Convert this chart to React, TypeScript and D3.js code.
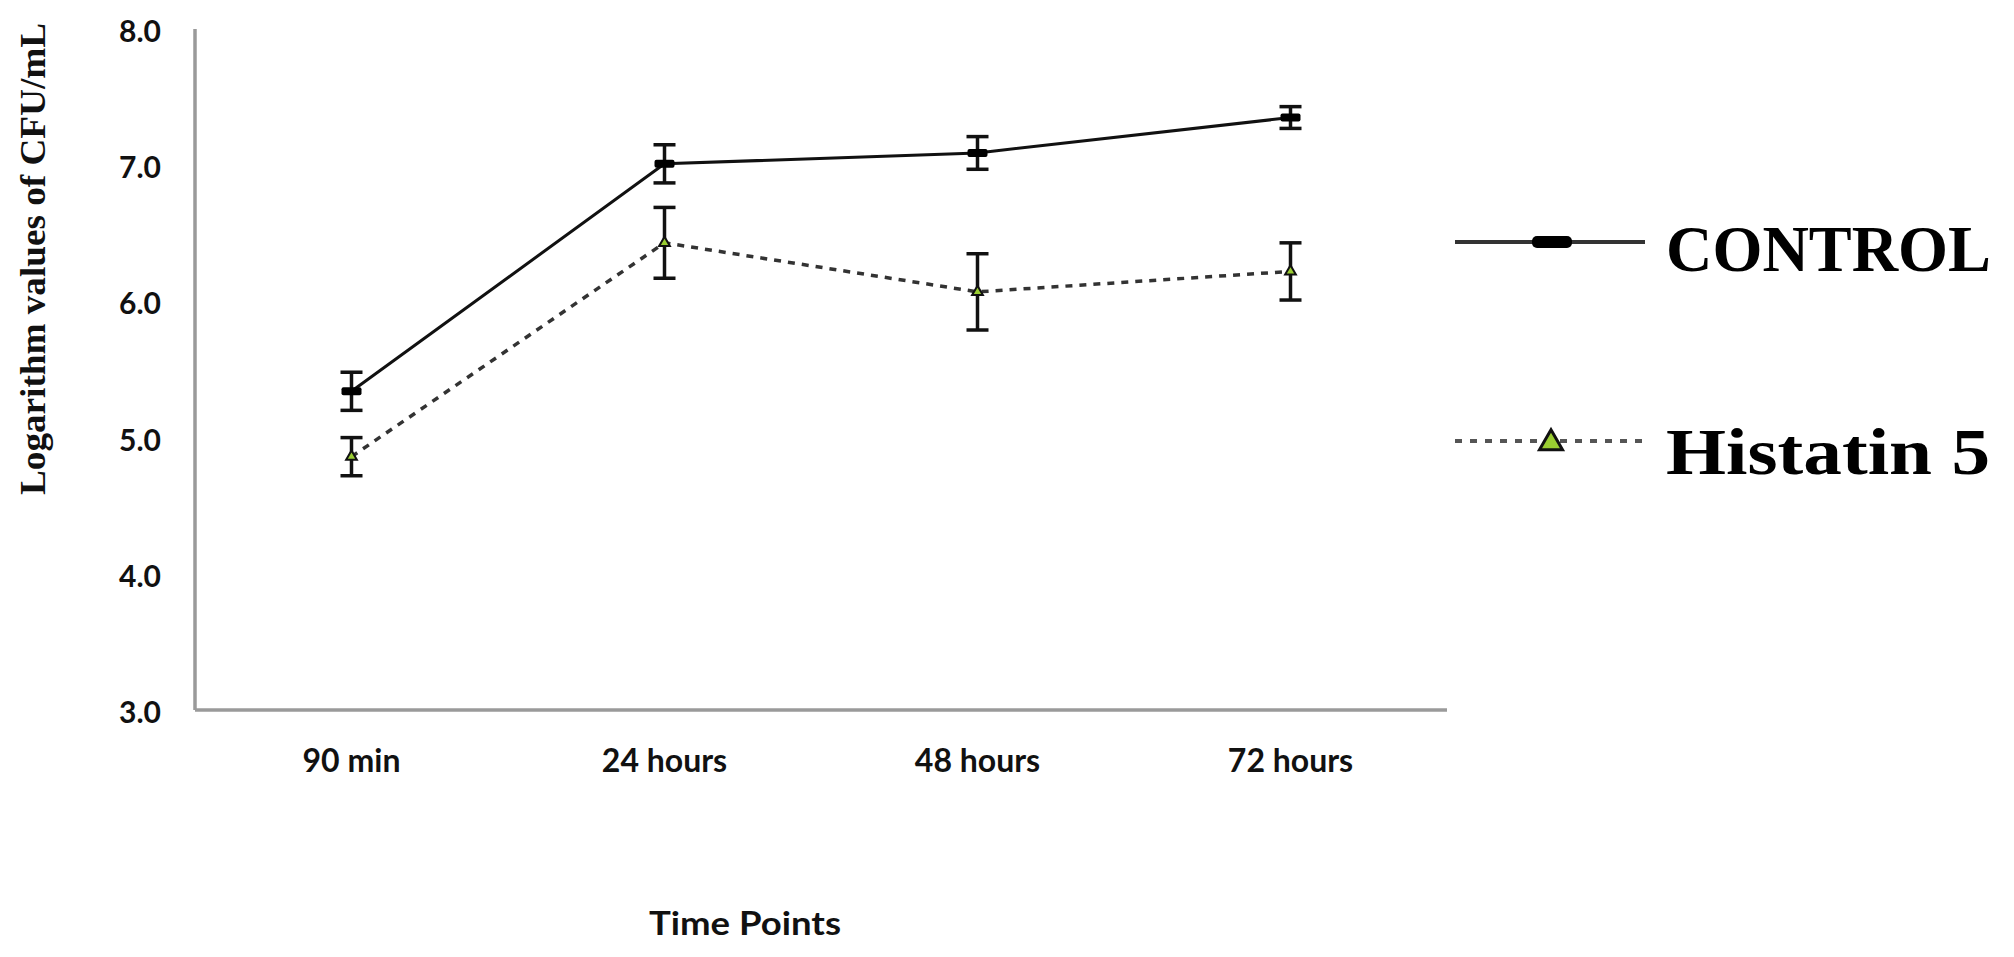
import * as d3 from 'd3';
import React from 'react';

// time points on the x axis
const timePoints = ['90 min', '24 hours', '48 hours', '72 hours'];

// log10 CFU/mL, mean and error
const controlMean = [5.34, 7.01, 7.09, 7.35];
const controlErr = [0.14, 0.14, 0.12, 0.08];
const histatinMean = [4.86, 6.43, 6.07, 6.22];
const histatinErr = [0.14, 0.26, 0.28, 0.21];

const yTicks = [3, 4, 5, 6, 7, 8];

const W = 2014;
const H = 957;

const tickFont = "Lato, 'Open Sans', sans-serif";
const serifFont = "'Liberation Serif', 'DejaVu Serif', serif";

const App: React.FC = () => {
  const x = d3.scalePoint<string>().domain(timePoints).range([195, 1447]).padding(0.5);
  const y = d3.scaleLinear().domain([3, 8]).range([710, 29]);

  const line = d3.line<number>()
    .x((_d, i) => x(timePoints[i]) ?? 0)
    .y(d => y(d));

  const tri = d3.symbol().type(d3.symbolTriangle);

  const errorBars = (mean: number[], err: number[], key: string) =>
    mean.map((m, i) => {
      const cx = x(timePoints[i]) ?? 0;
      const top = y(m + err[i]);
      const bot = y(m - err[i]);
      return (
        <g key={key + i} stroke="#111" strokeWidth={3.5}>
          <line x1={cx} x2={cx} y1={top} y2={bot} />
          <line x1={cx - 11} x2={cx + 11} y1={top} y2={top} />
          <line x1={cx - 11} x2={cx + 11} y1={bot} y2={bot} />
        </g>
      );
    });

  return (
    <svg width={W} height={H} style={{ position: 'absolute', left: 0, top: 0, background: '#fff' }}>
      {/* axes */}
      <line x1={195} x2={195} y1={y(8)} y2={y(3)} stroke="#9a9a9a" strokeWidth={3.5} />
      <line x1={195} x2={1447} y1={y(3)} y2={y(3)} stroke="#9a9a9a" strokeWidth={3.5} />

      {yTicks.map(t => (
        <text key={t} x={161} y={y(t) + 13} textAnchor="end" fontFamily={tickFont} fontWeight="bold" fontSize={30} fill="#111">
          {t.toFixed(1)}
        </text>
      ))}
      {timePoints.map(t => (
        <text key={t} x={x(t)} y={772} textAnchor="middle" fontFamily={tickFont} fontWeight="bold" fontSize={32} fill="#111">
          {t}
        </text>
      ))}

      <text x={745} y={935} textAnchor="middle" fontFamily={tickFont} fontWeight="bold" fontSize={33}
        textLength={192} lengthAdjust="spacingAndGlyphs" fill="#111">
        Time Points
      </text>
      <text
        transform="translate(45,259) rotate(-90)"
        textAnchor="middle"
        fontFamily={serifFont}
        fontWeight="bold"
        fontSize={36}
        textLength={472}
        lengthAdjust="spacingAndGlyphs"
        fill="#111"
      >
        Logarithm values of CFU/mL
      </text>

      {/* series lines */}
      <path d={line(histatinMean) ?? ''} fill="none" stroke="#333" strokeWidth={3.5} strokeDasharray="7 7" />
      <path d={line(controlMean) ?? ''} fill="none" stroke="#111" strokeWidth={3} />

      {errorBars(controlMean, controlErr, 'c')}
      {errorBars(histatinMean, histatinErr, 'h')}

      {/* markers */}
      {controlMean.map((m, i) => (
        <rect key={'cm' + i} x={(x(timePoints[i]) ?? 0) - 10} y={y(m) - 4} width={20} height={8} rx={2} fill="#000" />
      ))}
      {histatinMean.map((m, i) => (
        <path
          key={'hm' + i}
          d={tri.size(50)() ?? ''}
          transform={`translate(${x(timePoints[i])},${y(m)})`}
          fill="#9acd32"
          stroke="#111"
          strokeWidth={2}
        />
      ))}

      {/* legend */}
      <line x1={1455} x2={1645} y1={242} y2={242} stroke="#333" strokeWidth={4} />
      <rect x={1532} y={236} width={40} height={12} rx={5} fill="#000" />
      <text x={1666} y={271} fontFamily={serifFont} fontWeight="bold" fontSize={66} textLength={325} lengthAdjust="spacingAndGlyphs" fill="#000">
        CONTROL
      </text>

      <line x1={1455} x2={1643} y1={441} y2={441} stroke="#555" strokeWidth={4} strokeDasharray="7 8" />
      <path d={tri.size(230)() ?? ''} transform="translate(1551,443)" fill="#9acd32" stroke="#111" strokeWidth={3} />
      <text x={1666} y={474} fontFamily={serifFont} fontWeight="bold" fontSize={66} textLength={324} lengthAdjust="spacingAndGlyphs" fill="#000">
        Histatin 5
      </text>
    </svg>
  );
};

export default App;
